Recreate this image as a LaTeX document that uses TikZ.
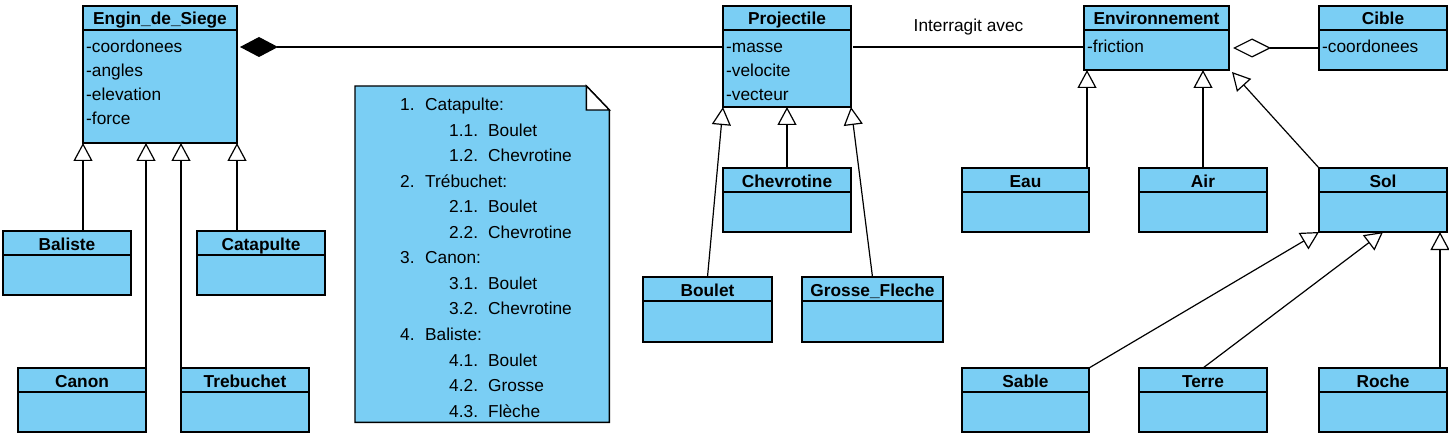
\documentclass[tikz,border=0pt]{standalone}
\usepackage{fontspec}
\setmainfont{Liberation Sans}
\usetikzlibrary{calc, arrows.meta}
\definecolor{bleuclasse}{RGB}{122,206,244}

\begin{document}
\begin{tikzpicture}[x=1pt, y=-1pt, font=\fontsize{17.3}{20}\selectfont,
    classe/.style={draw, fill=bleuclasse, line width=1.4pt, anchor=north west, inner sep=0pt, outer sep=0pt},
    titre/.style={anchor=base, font=\fontsize{17.3}{20}\selectfont\bfseries, inner sep=0pt},
    attr/.style={anchor=base west, inner sep=0pt},
    herite/.style={line width=1.2pt, -{Triangle[open, length=18pt, width=19pt]}},
    lien/.style={line width=1.2pt}]
    \useasboundingbox (0,0) rectangle (1449,433);

    \foreach \nom/\x/\y/\w/\h/\titre in {engin/83/6/154/137/Engin\_de\_Siege,
        baliste/3/231/128/64/Baliste, catapulte/197/231/128/64/Catapulte,
        canon/18/368/128/64/Canon, trebuchet/181/368/128/64/Trebuchet,
        projectile/723/6/128/101/Projectile, chevrotine/723/168/128/64/Chevrotine,
        boulet/643/277/129/65/Boulet, grosse/802/277/141/65/Grosse\_Fleche,
        env/1084/6/145/64/Environnement, cible/1319/6/128/64/Cible,
        eau/962/168/127/64/Eau, air/1139/168/128/64/Air, sol/1319/168/128/64/Sol,
        sable/962/368/127/64/Sable, terre/1139/368/128/64/Terre, roche/1319/368/128/64/Roche}
    {
        \node[classe, minimum width=\w pt, minimum height=\h pt] (\nom) at (\x,\y) {};
        \node[titre] (\nom-titre) at ($(\nom.north)+(0,19)$) {\titre};
        \draw[line width=1.4pt] ($(\nom.north west)+(0,24)$) -- ($(\nom.north east)+(0,24)$);
    }

    \foreach \a [count=\i] in {-coordonees, -angles, -elevation, -force}
        \node[attr] (engin-a\i) at ($(engin.north west)+(3,22.5+24*\i)$) {\a};
    \foreach \a [count=\i] in {-masse, -velocite, -vecteur}
        \node[attr] (projectile-a\i) at ($(projectile.north west)+(3,22.5+24*\i)$) {\a};
    \node[attr] (env-a1) at ($(env.north west)+(3,46.5)$) {-friction};
    \node[attr] (cible-a1) at ($(cible.north west)+(3,46.5)$) {-coordonees};

    \node[minimum width=254pt, minimum height=336pt, anchor=north west, inner sep=0pt] (note) at (355,86) {};
    \draw[line width=1.4pt, fill=bleuclasse] (note.north west) -- ($(note.north east)+(-23,0)$) -- ($(note.north east)+(0,24)$) -- (note.south east) -- (note.south west) -- cycle;
    \draw[line width=1.4pt, fill=white] ($(note.north east)+(-23,0)$) -- ($(note.north east)+(-23,24)$) -- ($(note.north east)+(0,24)$) -- cycle;
    \foreach \n/\x/\t [count=\i] in {1./0/Catapulte:, 1.1./1/Boulet, 1.2./1/Chevrotine,
        2./0/Trébuchet:, 2.1./1/Boulet, 2.2./1/Chevrotine, 3./0/Canon:, 3.1./1/Boulet,
        3.2./1/Chevrotine, 4./0/Baliste:, 4.1./1/Boulet, 4.2./1/Grosse, 4.3./1/Flèche}
    {
        \node[attr] (num\i) at ($(note.north west)+(45+49*\x, -1+25.55*\i)$) {\n};
        \node[attr] (item\i) at ($(note.north west)+(70+63*\x, -1+25.55*\i)$) {\t};
    }

    \draw[herite] (baliste.north -| engin.south west) -- (engin.south west);
    \draw[herite] (canon.north east) -- (canon.north east |- engin.south);
    \draw[herite] (trebuchet.north west) -- (trebuchet.north west |- engin.south);
    \draw[herite] (catapulte.north -| engin.south east) -- (engin.south east);

    \draw[herite] (boulet.north) -- (projectile.south west);
    \draw[herite] (chevrotine.north) -- (projectile.south);
    \draw[herite] (grosse.north) -- (projectile.south east);

    \draw[herite] ($(eau.north east)+(-2,0)$) -- ($(eau.north east |- env.south)+(-2,0)$);
    \draw[herite] (air.north) -- (air.north |- env.south);
    \draw[herite] (sol.north west) -- ($(env.south east)+(3,2)$);

    \draw[herite] (sable.north east) -- (sol.south west);
    \draw[herite] (terre.north) -- (sol.south);
    \draw[herite] ($(roche.north east)+(-7,0)$) -- ($(sol.south east)+(-7,0)$);

    \draw[lien, -{Diamond[length=38pt, width=20pt]}] ($(projectile.north west)+(0,41)$) -- ($(engin.north east)+(3,41)$);
    \draw[lien, -{Diamond[open, length=38pt, width=19pt]}] ($(cible.north west)+(0,42)$) -- ($(env.north east)+(4,42)$);
    \draw[lien] ($(projectile.north east)+(2,41)$) -- node[midway, anchor=base, yshift=15pt, inner sep=0pt] (interlabel) {Interragit avec} ($(env.north west)+(0,41)$);
\end{tikzpicture}
\end{document}
